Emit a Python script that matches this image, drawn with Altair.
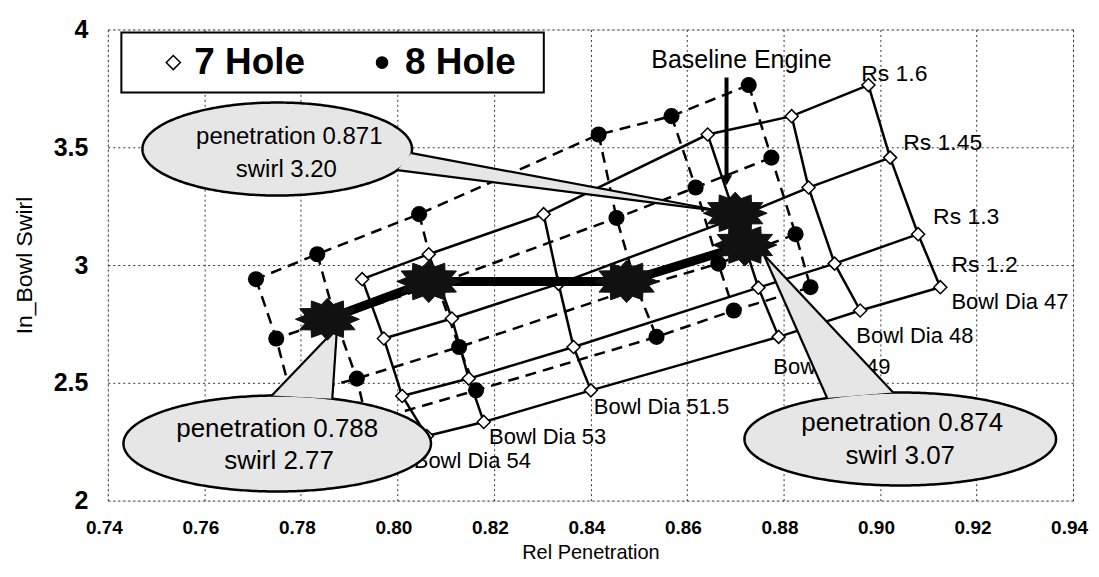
import altair as alt
import pandas as pd
import numpy as np

# ---------------- data ----------------
rs_values = [1.6, 1.45, 1.3, 1.2]
bowl_dia = [47, 48, 49, 51.5, 53, 54]

# In_Bowl swirl, rows = bowl_dia, columns = rs_values (same for both nozzles)
swirl = [
    [3.764, 3.456, 3.131, 2.906],
    [3.632, 3.329, 3.006, 2.807],
    [3.554, 3.200, 2.904, 2.695],
    [3.216, 2.920, 2.652, 2.468],
    [3.046, 2.773, 2.518, 2.334],
    [2.940, 2.688, 2.444, 2.274],
]
# relative penetration, 7 hole nozzle
pen_7hole = [
    [0.8976, 0.9021, 0.9079, 0.9125],
    [0.8817, 0.8852, 0.8906, 0.8959],
    [0.8643, 0.8701, 0.8748, 0.8790],
    [0.8303, 0.8334, 0.8365, 0.8401],
    [0.8065, 0.8113, 0.8148, 0.8179],
    [0.7927, 0.7972, 0.8010, 0.8061],
]
# relative penetration, 8 hole nozzle
pen_8hole = [
    [0.8728, 0.8775, 0.8825, 0.8856],
    [0.8568, 0.8618, 0.8665, 0.8697],
    [0.8417, 0.8454, 0.8496, 0.8537],
    [0.8045, 0.8082, 0.8128, 0.8163],
    [0.7834, 0.7871, 0.7916, 0.7937],
    [0.7707, 0.7749, 0.7780, 0.7801],
]

# thick path with star markers
path_pen = [0.7855, 0.8065, 0.8475, 0.8720, 0.8700]
path_swirl = [2.770, 2.930, 2.930, 3.085, 3.220]

x_ticks = [0.74, 0.76, 0.78, 0.80, 0.82, 0.84, 0.86, 0.88, 0.90, 0.92, 0.94]
y_ticks = [2, 2.5, 3, 3.5, 4]

rs_label_text = ["Rs 1.6", "Rs 1.45", "Rs 1.3", "Rs 1.2"]
rs_label_x = [0.8961, 0.9048, 0.9110, 0.9148]
rs_label_y = [3.809, 3.520, 3.206, 3.002]

bd_label_text = ["Bowl Dia 47", "Bowl Dia 48", "Bowl Dia 49", "Bowl Dia 51.5", "Bowl Dia 53", "Bowl Dia 54"]
bd_label_x = [0.9148, 0.8951, 0.8779, 0.8407, 0.8190, 0.8034]
bd_label_y = [2.841, 2.697, 2.565, 2.399, 2.272, 2.166]

callout_line1 = ["penetration 0.871", "penetration 0.788", "penetration 0.874"]
callout_line2 = ["swirl 3.20", "swirl 2.77", "swirl 3.07"]
callout_l1_x = [0.7776, 0.7751, 0.9046]
callout_l1_y = [3.5454, 2.3018, 2.3315]
callout_l2_x = [0.7770, 0.7755, 0.9042]
callout_l2_y = [3.4054, 2.1660, 2.1872]
callout_font = [24, 26, 26]
callout_cx = [0.7751, 0.7751, 0.9042]
callout_cy = [3.4924, 2.2424, 2.2615]
callout_rx = [0.02793, 0.03186, 0.03228]
callout_ry = [0.1974, 0.2037, 0.1974]
callout_tip_x = [0.8676, 0.7875, 0.8759]
callout_tip_y = [3.2271, 2.7347, 3.0446]
callout_base_deg = [(-5, -27), (69, 92), (118, 92.6)]

baseline_text = "Baseline Engine"
baseline_text_x, baseline_text_y = 0.8713, 3.872
arrow_x, arrow_y_top, arrow_y_end = 0.8682, 3.796, 3.36

legend_labels = ["7 Hole", "8 Hole"]
legend_sym_x = [0.75357, 0.79682]
legend_lab_x = [0.75792, 0.80158]
legend_y = 3.8595
legend_box = (0.74281, 0.83034, 3.9868, 3.7322)

# ---------------- styles ----------------
SANS = "Liberation Sans, Arial, sans-serif"
CALLOUT_FILL = "#e6e6e6"

XS = alt.Scale(domain=[0.74, 0.94], nice=False, zero=False)
YS = alt.Scale(domain=[2, 4], nice=False, zero=False)
XA = alt.Axis(values=x_ticks, format=".2f", grid=True, ticks=False, domain=False,
              labelFlush=False, labelOverlap=False, labelPadding=18, labelOffset=-4,
              labelFont=SANS, labelFontSize=19, labelFontWeight="bold", labelColor="black",
              titleFont=SANS, titleFontSize=20, titleFontWeight="normal", titleColor="black",
              titleY=58, titleBaseline="alphabetic",
              gridColor="#333", gridDash=[2, 3], gridWidth=1, gridOpacity=1)
YA = alt.Axis(values=y_ticks, format="~g", grid=True, ticks=False, domain=False,
              labelFlush=False, labelPadding=20,
              labelFont=SANS, labelFontSize=25, labelFontWeight="bold", labelColor="black",
              titleFont=SANS, titleFontSize=23, titleFontWeight="normal", titleColor="black",
              titleX=-83, titleY=236, titleBaseline="middle", titleAngle=270,
              gridColor="#333", gridDash=[2, 3], gridWidth=1, gridOpacity=1)


def X(f="x"):
    return alt.X(f"{f}:Q", scale=XS, axis=XA, title="Rel Penetration")


def Y(f="y"):
    return alt.Y(f"{f}:Q", scale=YS, axis=YA, title="In_Bowl Swirl")


# ---------------- tables ----------------
pts = []
lines = []
for carpet, pen in (("7 Hole", pen_7hole), ("8 Hole", pen_8hole)):
    for i, bd in enumerate(bowl_dia):
        for j, rs in enumerate(rs_values):
            p = dict(carpet=carpet, x=pen[i][j], y=swirl[i][j])
            pts.append(p)
            lines.append(dict(p, line=f"{carpet} Rs {rs}", order=i))
            lines.append(dict(p, line=f"{carpet} BD {bd}", order=j))
pts = pd.DataFrame(pts)
lines = pd.DataFrame(lines)

path_df = pd.DataFrame({"x": path_pen, "y": path_swirl, "order": range(len(path_pen))})

ell_rows, tri_rows, edge_rows = [], [], []
for k in range(3):
    cx, cy, rx, ry = callout_cx[k], callout_cy[k], callout_rx[k], callout_ry[k]
    for t in np.linspace(np.pi, 0, 161):
        ell_rows.append(dict(name=k, x=cx + rx * np.cos(t), y=cy - ry * np.sin(t), y2=cy + ry * np.sin(t)))
    tip = (callout_tip_x[k], callout_tip_y[k])
    bases = [(cx + rx * np.cos(np.radians(a)), cy + ry * np.sin(np.radians(a))) for a in callout_base_deg[k]]
    for b in bases:
        edge_rows.append(dict(x=tip[0], y=tip[1], x2=b[0], y2=b[1]))
    v = sorted([tip] + bases)
    (x0, y0), (x1, y1), (x2, y2) = v
    ye = y0 + (y2 - y0) * (x1 - x0) / (x2 - x0)
    tri_rows += [dict(name=k, x=x0, y=y0, y2=y0),
                 dict(name=k, x=x1, y=min(y1, ye), y2=max(y1, ye)),
                 dict(name=k, x=x2, y=y2, y2=y2)]
ell_df = pd.DataFrame(ell_rows)
tri_df = pd.DataFrame(tri_rows)
edge_df = pd.DataFrame(edge_rows)

callout_txt = pd.DataFrame({
    "text": callout_line1 + callout_line2,
    "x": callout_l1_x + callout_l2_x,
    "y": callout_l1_y + callout_l2_y,
    "size": callout_font + callout_font,
})

rs_df = pd.DataFrame({"text": rs_label_text, "x": rs_label_x, "y": rs_label_y})
bd_df = pd.DataFrame({"text": bd_label_text, "x": bd_label_x, "y": bd_label_y})

# star marker outline (shape only)
star = []
for k in range(24):
    a = k * np.pi / 12
    r = 1.0 if k % 2 == 0 else 0.72
    star.append((r * np.cos(a), 0.66 * r * np.sin(a)))
STAR = "M" + " L".join(f"{sx:.3f},{sy:.3f}" for sx, sy in star) + " Z"

# ---------------- layers ----------------
line7 = alt.Chart(lines[lines.carpet == "7 Hole"]).mark_line(color="black", strokeWidth=2.5).encode(
    x=X(), y=Y(), detail="line:N", order="order:Q")
line8 = alt.Chart(lines[lines.carpet == "8 Hole"]).mark_line(color="black", strokeWidth=2.5, strokeDash=[11, 7]).encode(
    x=X(), y=Y(), detail="line:N", order="order:Q")
pt7 = alt.Chart(pts[pts.carpet == "7 Hole"]).mark_point(shape="diamond", size=170, filled=True, fill="white",
                                                        stroke="black", strokeWidth=1.5, opacity=1).encode(x=X(), y=Y())
pt8 = alt.Chart(pts[pts.carpet == "8 Hole"]).mark_point(shape="circle", size=260, filled=True, fill="black",
                                                        opacity=1).encode(x=X(), y=Y())
rs_lab = alt.Chart(rs_df).mark_text(align="left", baseline="middle", font=SANS, fontSize=23, color="black").encode(
    x=X(), y=Y(), text="text:N")
bd_lab = alt.Chart(bd_df).mark_text(align="left", baseline="middle", font=SANS, fontSize=22, color="black").encode(
    x=X(), y=Y(), text="text:N")
thick = alt.Chart(path_df).mark_line(color="black", strokeWidth=9).encode(x=X(), y=Y(), order="order:Q")
ell = alt.Chart(ell_df).mark_area(fill=CALLOUT_FILL, stroke="black", strokeWidth=2.5, opacity=1).encode(
    x=X(), y=Y(), y2="y2:Q", detail="name:N")
tri = alt.Chart(tri_df).mark_area(fill=CALLOUT_FILL, opacity=1).encode(
    x=X(), y=Y(), y2="y2:Q", detail="name:N")
edges = alt.Chart(edge_df).mark_rule(color="black", strokeWidth=2.2).encode(x=X(), y=Y(), x2="x2:Q", y2="y2:Q")
ctext = alt.Chart(callout_txt).mark_text(align="center", baseline="middle", font=SANS, color="black").encode(
    x=X(), y=Y(), text="text:N", size=alt.Size("size:Q", scale=None, legend=None))
stars = alt.Chart(path_df).mark_point(shape=STAR, size=4096, filled=True, fill="#111", stroke="#111",
                                      strokeWidth=1, opacity=1).encode(x=X(), y=Y())
arrow_df = pd.DataFrame({"x": [arrow_x], "y": [arrow_y_top], "y2": [arrow_y_end]})
arrow = alt.Chart(arrow_df).mark_rule(color="black", strokeWidth=4).encode(x=X(), y=Y(), y2="y2:Q")
arrow_head = alt.Chart(arrow_df).mark_point(shape="triangle-down", size=130, filled=True, fill="black",
                                            opacity=1).encode(x=X(), y=Y("y2"))
base_txt = alt.Chart(pd.DataFrame({"text": [baseline_text], "x": [baseline_text_x], "y": [baseline_text_y]})).mark_text(
    align="center", baseline="middle", font=SANS, fontSize=25, color="black").encode(x=X(), y=Y(), text="text:N")

lb = pd.DataFrame({"x": [legend_box[0]], "x2": [legend_box[1]], "y": [legend_box[2]], "y2": [legend_box[3]]})
leg_box = alt.Chart(lb).mark_rect(fill="white", stroke="black", strokeWidth=2).encode(
    x=X(), x2="x2:Q", y=Y(), y2="y2:Q")
leg_sym7 = alt.Chart(pd.DataFrame({"x": [legend_sym_x[0]], "y": [legend_y]})).mark_point(
    shape="diamond", size=200, filled=True, fill="white", stroke="black", strokeWidth=1.5, opacity=1).encode(x=X(), y=Y())
leg_sym8 = alt.Chart(pd.DataFrame({"x": [legend_sym_x[1]], "y": [legend_y]})).mark_point(
    shape="circle", size=160, filled=True, fill="black", opacity=1).encode(x=X(), y=Y())
leg_txt = alt.Chart(pd.DataFrame({"text": legend_labels, "x": legend_lab_x, "y": [legend_y, legend_y]})).mark_text(
    align="left", baseline="middle", font=SANS, fontSize=37, fontWeight="bold", color="black").encode(
    x=X(), y=Y(), text="text:N")

chart = alt.layer(
    line7, line8, pt7, pt8, rs_lab, bd_lab, thick,
    ell, tri, edges, ctext, stars, arrow, arrow_head, base_txt,
    leg_box, leg_sym7, leg_sym8, leg_txt,
).properties(
    width=967, height=472,
    padding={"left": 100, "top": 21, "right": 18, "bottom": 64},
    autosize=alt.AutoSizeParams(type="none"),
).configure_view(stroke="black", strokeWidth=2.5).configure(background="white")

chart.save("out.html", embed_options={"renderer": "svg", "actions": False})
